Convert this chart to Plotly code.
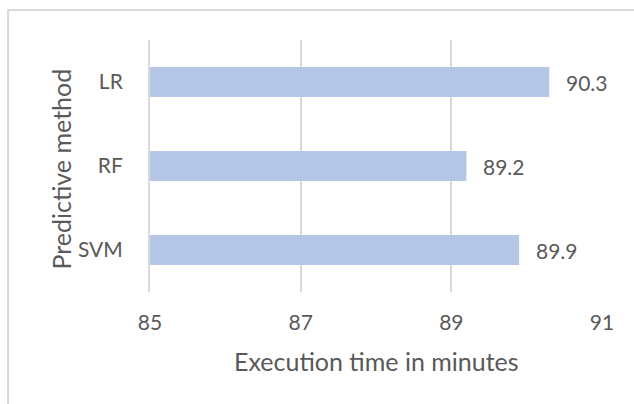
import plotly.graph_objects as go

methods = ["LR", "RF", "SVM"]
exec_minutes = [90.3, 89.2, 89.9]
x_ticks = [85, 87, 89, 91]

x_title = "Execution time in minutes"
y_title = "Predictive method"

TEXT = "#595959"
GRID = "#D9D9D9"
BAR = "#B4C7E7"
FONT = "Lato"

fig = go.Figure(
    go.Bar(
        x=exec_minutes,
        y=methods,
        orientation="h",
        marker=dict(color=BAR, line=dict(width=0)),
        width=0.357,
        hoverinfo="skip",
    )
)

# value labels just to the right of each bar end
for m, v in zip(methods, exec_minutes):
    fig.add_annotation(
        x=v, y=m, text=f"{v:.1f}", showarrow=False,
        xanchor="left", yanchor="middle", xshift=15,
        font=dict(family=FONT, size=21, color=TEXT),
    )

# axis titles
fig.add_annotation(
    xref="paper", yref="paper", x=0.5, y=-0.272,
    text=x_title, showarrow=False, xanchor="center", yanchor="middle",
    font=dict(family=FONT, size=25, color=TEXT),
)
fig.add_annotation(
    xref="paper", yref="paper", x=-0.199, y=0.486,
    text=y_title, showarrow=False, textangle=-90,
    xanchor="center", yanchor="middle",
    font=dict(family=FONT, size=25, color=TEXT),
)

# outer chart frame (extends past the right and bottom edges)
fig.add_shape(
    type="rect", xref="paper", yref="paper",
    x0=-0.314, x1=1.3, y0=-0.8, y1=1.119,
    line=dict(color=GRID, width=2), fillcolor="rgba(0,0,0,0)",
    layer="below",
)

fig.update_layout(
    width=634, height=404,
    margin=dict(l=150, r=32, t=40, b=112),
    paper_bgcolor="white", plot_bgcolor="white",
    showlegend=False,
    font=dict(family=FONT, color=TEXT),
    xaxis=dict(
        range=[85, 91],
        tickvals=x_ticks,
        ticktext=[str(t) for t in x_ticks],
        showgrid=True, gridcolor=GRID, gridwidth=2,
        zeroline=False, showline=False,
        ticks="", tickfont=dict(family=FONT, size=21, color=TEXT),
        ticklabelstandoff=16,
        fixedrange=True,
    ),
    yaxis=dict(
        categoryorder="array",
        categoryarray=methods[::-1],
        showgrid=False, zeroline=False,
        showline=True, linecolor=GRID, linewidth=2,
        ticks="", tickfont=dict(family=FONT, size=21, color=TEXT),
        ticklabelstandoff=21,
        fixedrange=True,
    ),
)

fig.write_html("out.html")
